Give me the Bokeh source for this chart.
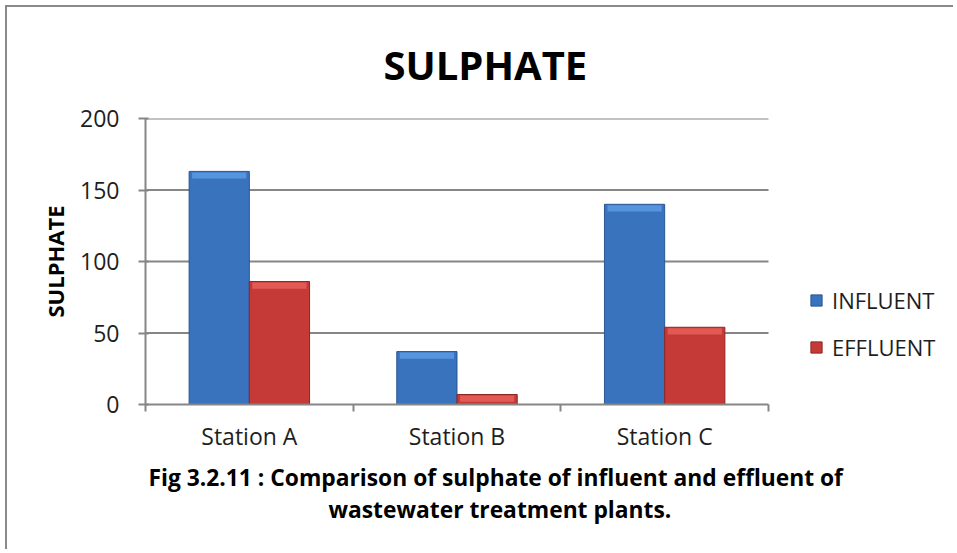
import numpy as np
from bokeh.plotting import figure
from bokeh.models import Range1d, FixedTicker, Legend, LegendItem, Title
from bokeh.embed import file_html
from bokeh.resources import INLINE

categories = ["Station A", "Station B", "Station C"]
influent = [163, 37, 140]
effluent = [86, 7, 54]
y_ticks = [0, 50, 100, 150, 200]
series_names = ["INFLUENT", "EFFLUENT"]
chart_title = "SULPHATE"
y_label = "SULPHATE"
caption = ["Fig 3.2.11 : Comparison of sulphate of influent and effluent of",
           "wastewater treatment plants."]

FONT = "Open Sans"
GRID = "#868686"
TXT = "#1e1e1e"

n = len(categories)
xs = np.arange(n)
bar_w = 0.29
x_inf = xs - bar_w / 2
x_eff = xs + bar_w / 2
x_lo, x_hi = -0.5, n - 0.5          # extent of the category axis
x_view_hi = 3.362                   # frame extends to the right to hold the legend

p = figure(width=948, height=544, x_range=Range1d(x_lo, x_view_hi), y_range=Range1d(0, 200),
           output_backend="svg", toolbar_location=None, title=None,
           min_border_left=138, min_border_right=8, min_border_top=111, min_border_bottom=147)
p.styles = {"margin": "5px 0 0 5px", "border-left": "2px solid #8a8a8a",
            "border-top": "2px solid #8a8a8a"}
p.outline_line_color = None
p.background_fill_color = "white"
p.border_fill_color = "white"

# grid lines (limited to the category axis extent)
p.xgrid.visible = False
p.ygrid.visible = False
gy = [t for t in y_ticks if t > 0]
p.segment(x0=[x_lo] * len(gy), x1=[x_hi] * len(gy), y0=gy, y1=gy,
          line_color=GRID, line_width=2)

# y axis
ya = p.yaxis[0]
ya.ticker = FixedTicker(ticks=y_ticks)
ya.axis_line_color = GRID
ya.axis_line_width = 2
ya.major_tick_line_color = GRID
ya.major_tick_line_width = 2
ya.major_tick_out = 7
ya.major_tick_in = 3
ya.minor_tick_line_color = None
ya.major_label_text_font = FONT
ya.major_label_text_font_size = "23px"
ya.major_label_text_color = TXT
ya.major_label_standoff = 19
ya.axis_label = y_label
ya.axis_label_text_font = FONT
ya.axis_label_text_font_style = "bold"
ya.axis_label_text_font_size = "22px"
ya.axis_label_text_color = "black"
ya.axis_label_standoff = 7

# x axis: labels at category centres, ticks at category boundaries
xa = p.xaxis[0]
xa.bounds = (x_lo, x_hi)
xa.ticker = FixedTicker(ticks=list(xs), minor_ticks=list(np.arange(n + 1) - 0.5))
xa.major_label_overrides = {int(i): c for i, c in zip(xs, categories)}
xa.axis_line_color = GRID
xa.axis_line_width = 2
xa.major_tick_line_color = None
xa.major_tick_out = 0
xa.major_tick_in = 0
xa.minor_tick_line_color = GRID
xa.minor_tick_line_width = 2
xa.minor_tick_out = 7
xa.minor_tick_in = 0
xa.major_label_text_font = FONT
xa.major_label_text_font_size = "23px"
xa.major_label_text_color = TXT
xa.major_label_standoff = 8

# bars (flat body + lighter bevel at the top + darker outline)
blue, blue_top, blue_edge = "#3a73bd", "#5595e0", "#2a5592"
red, red_top, red_edge = "#c53a36", "#e25a55", "#8e2624"
inf_top = np.array(influent, dtype=float)
eff_top = np.array(effluent, dtype=float)
bevel = 5.0

r_inf = p.vbar(x=x_inf, top=inf_top, width=bar_w, bottom=0, fill_color=blue,
               line_color=blue_edge, line_width=1)
p.vbar(x=x_inf, top=inf_top - 0.7, bottom=np.maximum(inf_top - bevel, 0), width=bar_w * 0.9,
       fill_color=blue_top, line_color=None)
r_eff = p.vbar(x=x_eff, top=eff_top, width=bar_w, bottom=0, fill_color=red,
               line_color=red_edge, line_width=1)
p.vbar(x=x_eff, top=eff_top - 0.7, bottom=np.maximum(eff_top - bevel, 0), width=bar_w * 0.9,
       fill_color=red_top, line_color=None)

# legend (inside the widened frame, right of the axis)
legend = Legend(items=[LegendItem(label=series_names[0], renderers=[r_inf]),
                       LegendItem(label=series_names[1], renderers=[r_eff])],
                location=(664, 42))
legend.glyph_width = 14
legend.glyph_height = 14
legend.label_standoff = 9
legend.label_text_font = FONT
legend.label_text_font_size = "22px"
legend.label_text_color = TXT
legend.label_height = 20
legend.spacing = 17
legend.margin = 0
legend.padding = 0
legend.border_line_color = None
legend.background_fill_alpha = 0
p.add_layout(legend, "center")

# title
p.add_layout(Title(text=chart_title, align="left", offset=238, standoff=49, vertical_align="top",
                   text_font=FONT, text_font_style="bold", text_font_size="40px",
                   text_color="black"), "above")

# caption
p.add_layout(Title(text=caption[0], align="left", offset=3, standoff=10, text_font=FONT,
                   text_font_style="bold", text_font_size="22.8px", text_color="black"), "below")
p.add_layout(Title(text=caption[1], align="left", offset=183, standoff=-12, text_font=FONT,
                   text_font_style="bold", text_font_size="22.8px", text_color="black"), "below")

open("out.html", "w").write(file_html(p, INLINE))
